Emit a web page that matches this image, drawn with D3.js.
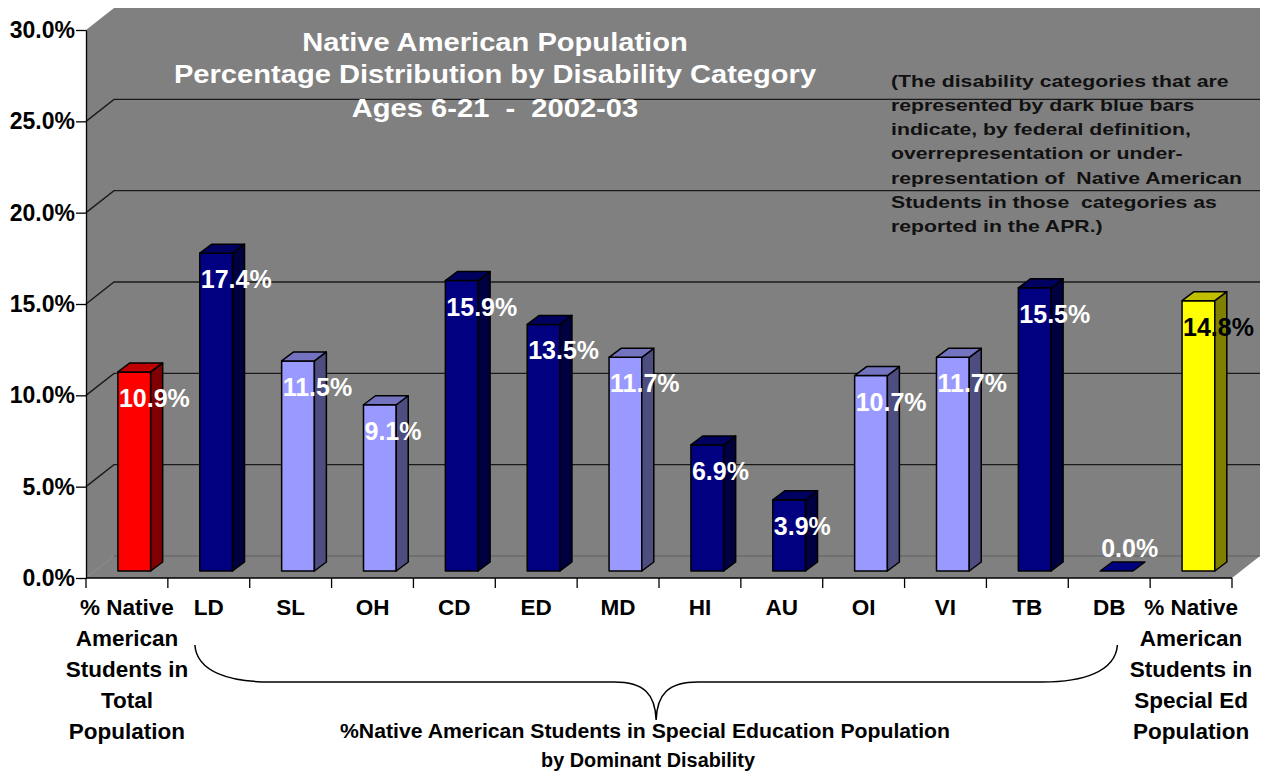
<!DOCTYPE html>
<html>
<head>
<meta charset="utf-8">
<script src="https://cdn.jsdelivr.net/npm/d3@7"></script>
<style>
  html, body { margin: 0; padding: 0; background: #ffffff; }
  svg { display: block; font-family: "Liberation Sans", Arial, sans-serif; font-weight: bold; }
</style>
</head>
<body>
<svg id="chart" width="1266" height="772"></svg>
<script>
// ---- data ----
const categories = ["Total Population", "LD", "SL", "OH", "CD", "ED", "MD", "HI", "AU", "OI", "VI", "TB", "DB", "Special Ed Population"];
const categoryLines = [
  ["% Native", "American", "Students in", "Total", "Population"],
  ["LD"], ["SL"], ["OH"], ["CD"], ["ED"], ["MD"], ["HI"], ["AU"], ["OI"], ["VI"], ["TB"], ["DB"],
  ["% Native", "American", "Students in", "Special Ed", "Population"]
];
const values = [10.9, 17.4, 11.5, 9.1, 15.9, 13.5, 11.7, 6.9, 3.9, 10.7, 11.7, 15.5, 0.0, 14.8];
const groups = ["total", "flagged", "other", "other", "flagged", "flagged", "other", "flagged", "flagged", "other", "other", "flagged", "flagged", "specialEd"];
const yTicks = [0, 5, 10, 15, 20, 25, 30];
const titleLines = ["Native American Population", "Percentage Distribution by Disability Category", "Ages 6-21  -  2002-03"];
const noteLines = [
  "(The disability categories that are",
  "represented by dark blue bars",
  "indicate, by federal definition,",
  "overrepresentation or under-",
  "representation of  Native American",
  "Students in those  categories as",
  "reported in the APR.)"
];
const captionLines = ["%Native American Students in Special Education Population", "by Dominant Disability"];

// ---- styling ----
const palette = {
  total:     { front: "#ff0000", side: "#800000", top: "#c00000", label: "#ffffff" },
  flagged:   { front: "#000080", side: "#000040", top: "#000060", label: "#ffffff" },
  other:     { front: "#9999ff", side: "#4d4d80", top: "#7373bf", label: "#ffffff" },
  specialEd: { front: "#ffff00", side: "#808000", top: "#bfbf00", label: "#000000" }
};

const svg = d3.select("#chart");

// plot geometry (front plane of the 3-D box)
const plotLeft = 86, plotRight = 1232, plotBottom = 578, plotTop = 30;
const depthX = 28, depthY = -22;          // wall offset behind the front plane
const barShiftY = -7;                      // bars sit a third of the way into the floor
const barDX = 12, barDY = -9;              // bar thickness in depth

const x = d3.scaleBand().domain(categories).range([plotLeft, plotRight]).padding(0);
const y = d3.scaleLinear().domain([0, 30]).range([plotBottom, plotTop]);
const bw = x.bandwidth();

// ---- walls and floor ----
svg.append("polygon")
  .attr("points", [
    [plotLeft, y(30)], [plotLeft + depthX, y(30) + depthY], [plotRight + depthX, y(30) + depthY],
    [plotRight + depthX, y(0) + depthY], [plotRight, y(0)], [plotLeft, y(0)]
  ].map(p => p.join(",")).join(" "))
  .attr("fill", "#808080");

// floor back edge and left floor diagonal
svg.append("line")
  .attr("x1", plotLeft + depthX).attr("x2", plotRight + depthX)
  .attr("y1", y(0) + depthY).attr("y2", y(0) + depthY)
  .attr("stroke", "#5e5e5e").attr("stroke-width", 1.2);
svg.append("line")
  .attr("x1", plotLeft).attr("y1", y(0))
  .attr("x2", plotLeft + depthX).attr("y2", y(0) + depthY)
  .attr("stroke", "#a0a0a0").attr("stroke-width", 1).attr("stroke-dasharray", "1,1");

// gridlines: diagonal on the side wall + horizontal on the back wall
const gridVals = yTicks.filter(v => v > 0 && v < 30);
const grid = svg.append("g").attr("stroke", "#1a1a1a").attr("stroke-width", 1.4).attr("fill", "none");
gridVals.forEach(v => {
  grid.append("path")
    .attr("d", `M${plotLeft},${y(v)} L${plotLeft + depthX},${y(v) + depthY} L${plotRight + depthX},${y(v) + depthY}`);
});

// ---- axes ----
const yAxis = d3.axisLeft(y)
  .tickValues(yTicks)
  .tickSize(10)
  .tickSizeOuter(0)
  .tickPadding(1)
  .tickFormat(v => d3.format(".1f")(v) + "%");
const yAxisG = svg.append("g").attr("transform", `translate(${plotLeft},0)`).call(yAxis);
yAxisG.select(".domain").attr("stroke", "#000").attr("stroke-width", 1.3);
yAxisG.selectAll(".tick line").attr("stroke", "#000").attr("stroke-width", 1.3);
yAxisG.selectAll(".tick text")
  .attr("fill", "#000")
  .style("font-family", "'Liberation Sans', Arial, sans-serif")
  .style("font-weight", "bold")
  .style("font-size", "23px");

// x axis base line and band separators
svg.append("line")
  .attr("x1", plotLeft).attr("x2", plotRight).attr("y1", y(0)).attr("y2", y(0))
  .attr("stroke", "#000").attr("stroke-width", 1.3);
const boundaries = categories.map(c => x(c)).concat([plotRight]);
svg.append("g").selectAll("line").data(boundaries).join("line")
  .attr("x1", d => d).attr("x2", d => d)
  .attr("y1", y(0)).attr("y2", y(0) + 10)
  .attr("stroke", "#000").attr("stroke-width", 1.3);

// category labels
const catG = svg.append("g")
  .attr("fill", "#000")
  .attr("text-anchor", "middle")
  .style("font-size", "22.5px");
categories.forEach((c, i) => {
  const t = catG.append("text").attr("x", x(c) + bw / 2).attr("y", 615);
  categoryLines[i].forEach((line, k) => {
    t.append("tspan").attr("x", x(c) + bw / 2).attr("y", 615 + k * 31).text(line);
  });
});

// ---- 3-D bars ----
const bars = svg.append("g").attr("stroke", "#000").attr("stroke-width", 1.5).attr("stroke-linejoin", "round");
const data = categories.map((c, i) => ({ cat: c, value: values[i], group: groups[i] }));
data.forEach(d => {
  const x0 = x(d.cat) + bw * 0.39;
  const w = bw * 0.40;
  const yb = y(0) + barShiftY;
  const yt = y(d.value) + barShiftY;
  const col = palette[d.group];
  const g = bars.append("g");
  if (yb - yt > 0.5) {
    g.append("rect").attr("x", x0).attr("y", yt).attr("width", w).attr("height", yb - yt).attr("fill", col.front);
    g.append("polygon")
      .attr("points", [[x0 + w, yt], [x0 + w + barDX, yt + barDY], [x0 + w + barDX, yb + barDY], [x0 + w, yb]].map(p => p.join(",")).join(" "))
      .attr("fill", col.side);
  }
  g.append("polygon")
    .attr("points", [[x0, yt], [x0 + barDX, yt + barDY], [x0 + w + barDX, yt + barDY], [x0 + w, yt]].map(p => p.join(",")).join(" "))
    .attr("fill", d.value === 0 ? col.front : col.top);
});

// value labels
const labelG = svg.append("g").style("font-size", "25px");
data.forEach(d => {
  const x0 = x(d.cat) + bw * 0.39;
  const yt = y(d.value) + barShiftY;
  labelG.append("text")
    .attr("x", x0 + 1)
    .attr("y", d.value > 0 ? yt + 35 : yt - 14)
    .attr("fill", palette[d.group].label)
    .text(d3.format(".1f")(d.value) + "%");
});

// ---- title ----
const titleG = svg.append("g").attr("fill", "#ffffff").attr("text-anchor", "middle").style("font-size", "26px");
const titleBase = [51, 83, 117];
titleLines.forEach((line, i) => {
  titleG.append("text")
    .attr("transform", `translate(495,${titleBase[i]}) scale(1.12,1)`)
    .style("white-space", "pre")
    .text(line);
});

// ---- note ----
const noteG = svg.append("g").attr("fill", "#111").style("font-size", "17px");
noteLines.forEach((line, i) => {
  noteG.append("text")
    .attr("transform", `translate(891,${86.7 + i * 24.2}) scale(1.25,1)`)
    .style("white-space", "pre")
    .text(line);
});

// ---- brace and caption ----
const lx = x(categories[1]) + bw * 0.33, rx = x(categories[12]) + bw * 0.6;
const mid = (lx + rx) / 2, by = 682, tipY = 720, armY = 645;
svg.append("path")
  .attr("d", `M${lx},${armY} C${lx + 2},${by - 10} ${lx + 35},${by} ${lx + 75},${by}
              L${mid - 42},${by} C${mid - 12},${by} ${mid - 1},${by + 12} ${mid},${tipY}
              C${mid + 1},${by + 12} ${mid + 12},${by} ${mid + 42},${by}
              L${rx - 75},${by} C${rx - 35},${by} ${rx - 2},${by - 10} ${rx},${armY}`)
  .attr("fill", "none").attr("stroke", "#000").attr("stroke-width", 1.5);

const capG = svg.append("g").attr("fill", "#000").attr("text-anchor", "middle")
  .style("font-family", "'Liberation Sans Narrow', 'Liberation Sans', Arial, sans-serif")
  .style("font-size", "20px");
capG.append("text").attr("x", 645).attr("y", 738)
  .attr("textLength", 610).attr("lengthAdjust", "spacingAndGlyphs").text(captionLines[0]);
capG.append("text").attr("x", 648).attr("y", 767)
  .attr("textLength", 214).attr("lengthAdjust", "spacingAndGlyphs").text(captionLines[1]);
</script>
</body>
</html>
